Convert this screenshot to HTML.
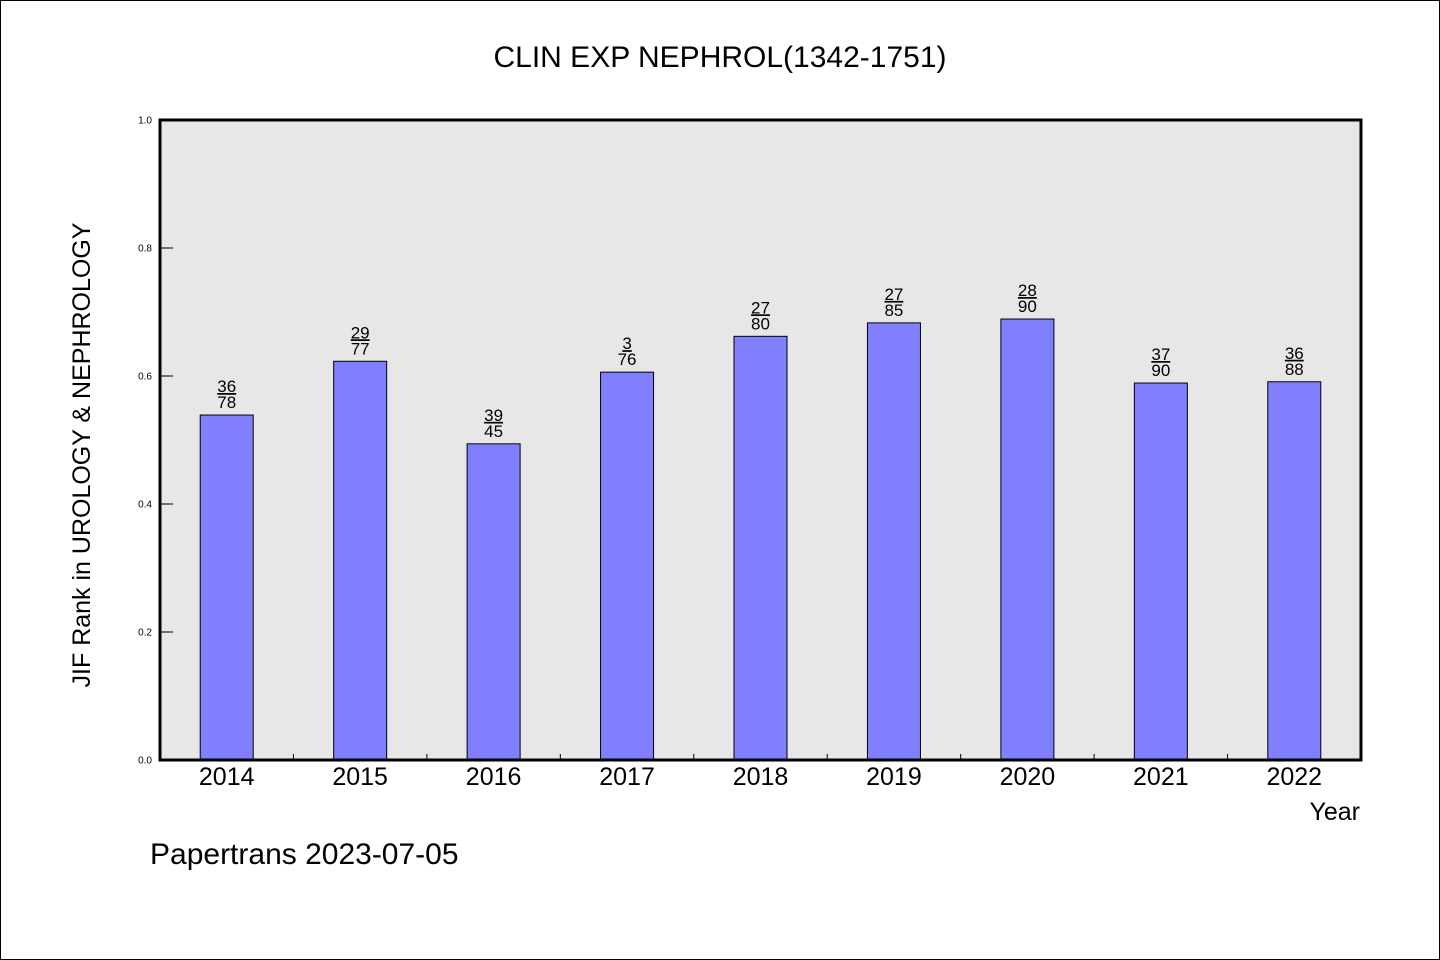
<!DOCTYPE html>
<html><head><meta charset="utf-8"><style>
html,body{margin:0;padding:0;background:#fff;}
svg{display:block;font-family:"Liberation Sans","WenQuanYi Zen Hei",sans-serif;}
</style></head><body>
<svg id="chart" width="1440" height="960" viewBox="0 0 1440 960" xmlns="http://www.w3.org/2000/svg">
<rect x="0.5" y="0.5" width="1439" height="959" fill="#fff" stroke="#000"/>
<text x="720" y="67" text-anchor="middle" font-size="30">CLIN EXP NEPHROL(1342-1751)</text>
<rect x="160" y="120" width="1201" height="640" fill="#e7e7e7"/>
<g id="bars"></g>
<g id="axes"></g>
<rect x="160" y="120" width="1201" height="640" fill="none" stroke="#000" stroke-width="3"/>
<text transform="translate(90,455) rotate(-90)" text-anchor="middle" font-size="25">JIF Rank in UROLOGY &amp; NEPHROLOGY</text>
<text x="1360" y="820" text-anchor="end" font-size="25">Year</text>
<text x="150" y="864" font-size="30">Papertrans 2023-07-05</text>
</svg>
<script>
const categories=["2014","2015","2016","2017","2018","2019","2020","2021","2022"];
const values=[0.539,0.623,0.494,0.606,0.662,0.683,0.689,0.589,0.591];
const ranks=["36","29","39","3","27","27","28","37","36"];
const totals=["78","77","45","76","80","85","90","90","88"];
const yTicks=["0.0","0.2","0.4","0.6","0.8","1.0"];
const NS="http://www.w3.org/2000/svg";
const X0=160,X1=1361,Y0=760,Y1=120;
const step=(X1-X0)/categories.length;
function xc(i){return X0+step*(i+0.5);}
function y(v){return Y0-(Y0-Y1)*v;}
function mk(t,a,p){const e=document.createElementNS(NS,t);for(const k in a)e.setAttribute(k,a[k]);p.appendChild(e);return e;}
const bars=document.getElementById('bars'),axes=document.getElementById('axes');
categories.forEach((c,i)=>{
  const cx=xc(i),top=y(values[i]);
  const r=mk('rect',{x:cx-26.5,y:top,width:53,height:Y0-top,fill:'#8080ff',stroke:'#000','stroke-width':1},bars);
  
  
  const t1=mk('text',{x:cx,y:top-23,'text-anchor':'middle','font-size':17,'text-decoration':'underline'},bars);
  t1.textContent=ranks[i];
  
  
  const t2=mk('text',{x:cx,y:top-7,'text-anchor':'middle','font-size':17},bars);
  t2.textContent=totals[i];
  
  
  const xl=mk('text',{x:cx,y:785,'text-anchor':'middle','font-size':25},axes);
  xl.textContent=c;
  
  
  if(i>0){
    const tk=mk('line',{x1:X0+step*i,x2:X0+step*i,y1:Y0,y2:Y0-6,stroke:'#000','stroke-width':1},axes);
    
    
  }
});
yTicks.forEach(t=>{
  const v=parseFloat(t),yy=y(v);
  const tk=mk('line',{x1:X0,x2:X0+13,y1:yy,y2:yy,stroke:'#000','stroke-width':1},axes);
  
  
  const tl=mk('text',{x:152,y:yy+3.5,'text-anchor':'end','font-size':10},axes);
  tl.textContent=t;
  
  
});
</script>
</body></html>
